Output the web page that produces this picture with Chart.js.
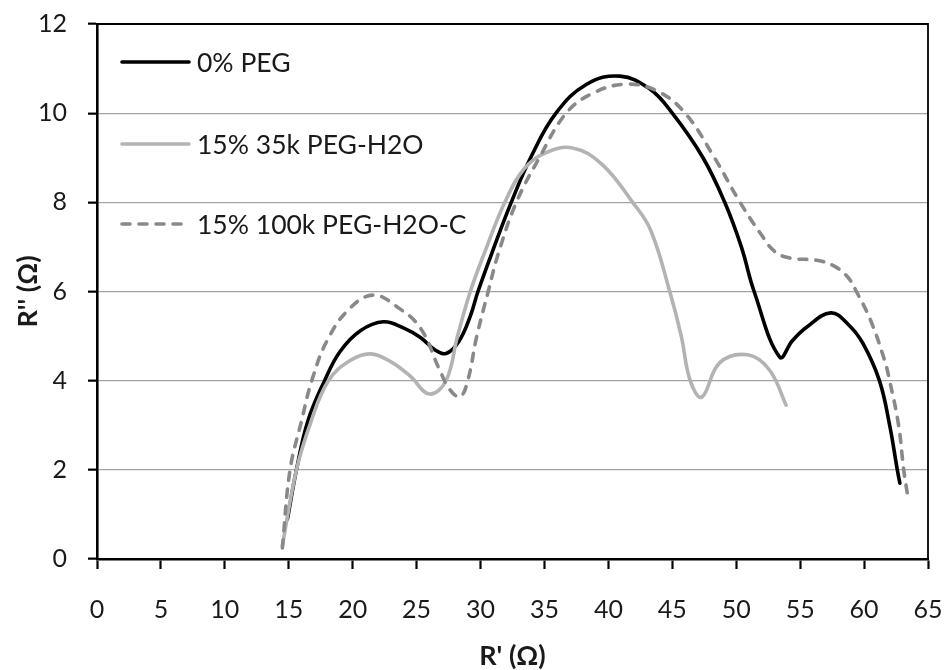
<!DOCTYPE html>
<html>
<head>
<meta charset="utf-8">
<script src="https://cdn.jsdelivr.net/npm/chart.js@4/dist/chart.umd.min.js"></script>
<style>
  html, body { margin: 0; padding: 0; background: #fff; }
  #wrap { width: 947px; height: 670px; }
</style>
</head>
<body>
<div id="wrap"><canvas id="c" width="947" height="670"></canvas></div>
<script>
// Nyquist plot: imaginary vs real resistance for three electrolyte samples
const seriesLabels = ['0% PEG', '15% 35k PEG-H2O', '15% 100k PEG-H2O-C'];

const pegZeroX = [14.9, 15.6, 16.5, 17.8, 19.0, 20.6, 22.4, 24.0, 25.3, 26.4, 27.3, 28.3, 29.2, 29.8, 31.0, 32.4, 34.0, 35.9, 38.3, 40.9, 43.2, 45.0, 47.4, 49.1, 50.4, 51.4, 53.4, 54.4, 55.5, 57.4, 58.8, 59.9, 61.2, 62.0, 62.6, 62.8];
const pegZeroY = [0.9, 2.0, 3.1, 4.0, 4.65, 5.12, 5.32, 5.18, 4.97, 4.7, 4.61, 4.88, 5.45, 6.0, 6.95, 8.0, 9.05, 10.0, 10.65, 10.83, 10.55, 10.0, 9.0, 8.0, 7.0, 6.0, 4.53, 4.9, 5.2, 5.52, 5.25, 4.84, 4.0, 3.0, 2.0, 1.7];

const peg35kX = [14.5, 15.6, 16.7, 18.1, 19.8, 21.4, 23.0, 24.5, 26.0, 27.3, 28.2, 29.2, 30.3, 31.9, 33.4, 35.0, 37.2, 39.5, 41.9, 43.3, 44.8, 45.7, 46.4, 47.3, 48.7, 50.9, 52.6, 53.9];
const peg35kY = [0.3, 2.0, 3.05, 4.0, 4.45, 4.6, 4.42, 4.1, 3.7, 4.0, 5.0, 6.0, 6.86, 8.0, 8.75, 9.1, 9.22, 8.85, 8.0, 7.38, 6.0, 5.0, 4.0, 3.63, 4.4, 4.58, 4.24, 3.45];

const peg100kX = [14.5, 15.1, 16.0, 16.8, 18.0, 19.7, 21.6, 23.5, 25.3, 26.8, 27.6, 28.4, 29.0, 29.7, 30.6, 31.4, 32.8, 34.6, 36.7, 38.8, 41.4, 43.8, 46.0, 48.3, 50.3, 51.9, 53.0, 54.2, 56.3, 57.6, 58.7, 59.4, 60.5, 61.6, 62.0, 62.7, 63.1, 63.4];
const peg100kY = [0.25, 2.0, 3.1, 4.0, 4.9, 5.6, 5.92, 5.65, 5.18, 4.24, 3.8, 3.64, 4.0, 4.99, 6.0, 6.86, 8.0, 9.0, 10.0, 10.45, 10.65, 10.5, 10.0, 9.0, 8.0, 7.3, 6.9, 6.75, 6.7, 6.58, 6.33, 6.0, 5.36, 4.46, 4.0, 3.0, 2.0, 1.44];

const xTicks = [0, 5, 10, 15, 20, 25, 30, 35, 40, 45, 50, 55, 60, 65];
const yTicks = [0, 2, 4, 6, 8, 10, 12];

const FONT = 'Lato, "Open Sans", "DejaVu Sans", sans-serif';

function toPoints(xs, ys) {
  return xs.map((x, i) => ({ x: x, y: ys[i] }));
}

const styles = [
  { color: '#000000', dash: [], width: 3.6 },
  { color: '#b3b3b3', dash: [], width: 3.6 },
  { color: '#898989', dash: [8, 9], width: 3.6 }
];

// Legend drawn inside the plot, upper left
const insideLegend = {
  id: 'insideLegend',
  afterDraw(chart) {
    const ctx = chart.ctx;
    const rows = [62, 144, 224];
    ctx.save();
    chart.data.datasets.forEach((ds, i) => {
      const y = rows[i];
      const st = styles[i];
      ctx.beginPath();
      ctx.strokeStyle = st.color;
      ctx.lineWidth = st.width;
      ctx.lineCap = 'round';
      ctx.setLineDash(st.dash);
      ctx.moveTo(122, y);
      ctx.lineTo(189, y);
      ctx.stroke();
      ctx.setLineDash([]);
      ctx.fillStyle = '#1a1a1a';
      ctx.font = '26.5px ' + FONT;
      ctx.textAlign = 'left';
      ctx.textBaseline = 'middle';
      ctx.fillText(ds.label, 197, y + 1);
    });
    ctx.restore();
  }
};

// Thin frame on the top and right sides of the plot area
const plotFrame = {
  id: 'plotFrame',
  afterDraw(chart) {
    const a = chart.chartArea;
    const ctx = chart.ctx;
    ctx.save();
    ctx.strokeStyle = '#000';
    ctx.lineWidth = 1.8;
    ctx.beginPath();
    ctx.moveTo(a.left, a.top);
    ctx.lineTo(a.right, a.top);
    ctx.lineTo(a.right, a.bottom);
    ctx.stroke();
    ctx.restore();
  }
};

function noEdgePadding(s) {
  s.paddingTop = 0;
  s.paddingBottom = 0;
  s.paddingLeft = 0;
  s.paddingRight = 0;
}

const rawSeries = [
  toPoints(pegZeroX, pegZeroY),
  toPoints(peg35kX, peg35kY),
  toPoints(peg100kX, peg100kY)
];

new Chart(document.getElementById('c'), {
  type: 'scatter',
  data: {
    datasets: rawSeries.map((pts, i) => ({
      label: seriesLabels[i],
      data: pts,
      showLine: true,
      borderColor: styles[i].color,
      borderWidth: styles[i].width,
      borderDash: styles[i].dash,
      borderCapStyle: 'round',
      borderJoinStyle: 'round',
      tension: 0.4,
      pointRadius: 0,
      pointHoverRadius: 0,
      fill: false,
      order: 3 - i
    }))
  },
  options: {
    responsive: false,
    animation: false,
    devicePixelRatio: 1,
    layout: { padding: { left: 0, right: 19, top: 24, bottom: 0 } },
    plugins: {
      legend: { display: false },
      tooltip: { enabled: false }
    },
    scales: {
      x: {
        type: 'linear',
        min: 0,
        max: 65,
        afterBuildTicks: s => { s.ticks = xTicks.map(v => ({ value: v })); },
        afterFit: s => { s.height = 111; noEdgePadding(s); },
        ticks: {
          color: '#1a1a1a',
          padding: 26,
          maxRotation: 0,
          font: { family: FONT, size: 25 }
        },
        grid: {
          drawOnChartArea: false,
          drawTicks: true,
          tickLength: 10,
          tickColor: '#000',
          tickWidth: 2.2
        },
        border: { display: true, color: '#000', width: 2.6 },
        title: {
          display: true,
          text: "R' (Ω)",
          color: '#1a1a1a',
          font: { family: FONT, size: 27, weight: 'bold', lineHeight: 1.0 },
          padding: { top: 0, bottom: 0 }
        }
      },
      y: {
        type: 'linear',
        min: 0,
        max: 12,
        afterBuildTicks: s => { s.ticks = yTicks.map(v => ({ value: v })); },
        afterFit: s => { s.width = 97; noEdgePadding(s); },
        ticks: {
          color: '#1a1a1a',
          padding: 21,
          font: { family: FONT, size: 25 }
        },
        grid: {
          color: c => (c.tick && c.tick.value > 0 && c.tick.value < 12) ? '#a3a3a3' : 'rgba(0,0,0,0)',
          lineWidth: 1.3,
          drawTicks: true,
          tickLength: 9,
          tickColor: '#000',
          tickWidth: 2.2
        },
        border: { display: true, color: '#000', width: 2.6 },
        title: {
          display: true,
          text: "R'' (Ω)",
          color: '#1a1a1a',
          font: { family: FONT, size: 27, weight: 'bold', lineHeight: 1.0 },
          padding: { top: 15, bottom: 0 }
        }
      }
    }
  },
  plugins: [insideLegend, plotFrame]
});
</script>
</body>
</html>
